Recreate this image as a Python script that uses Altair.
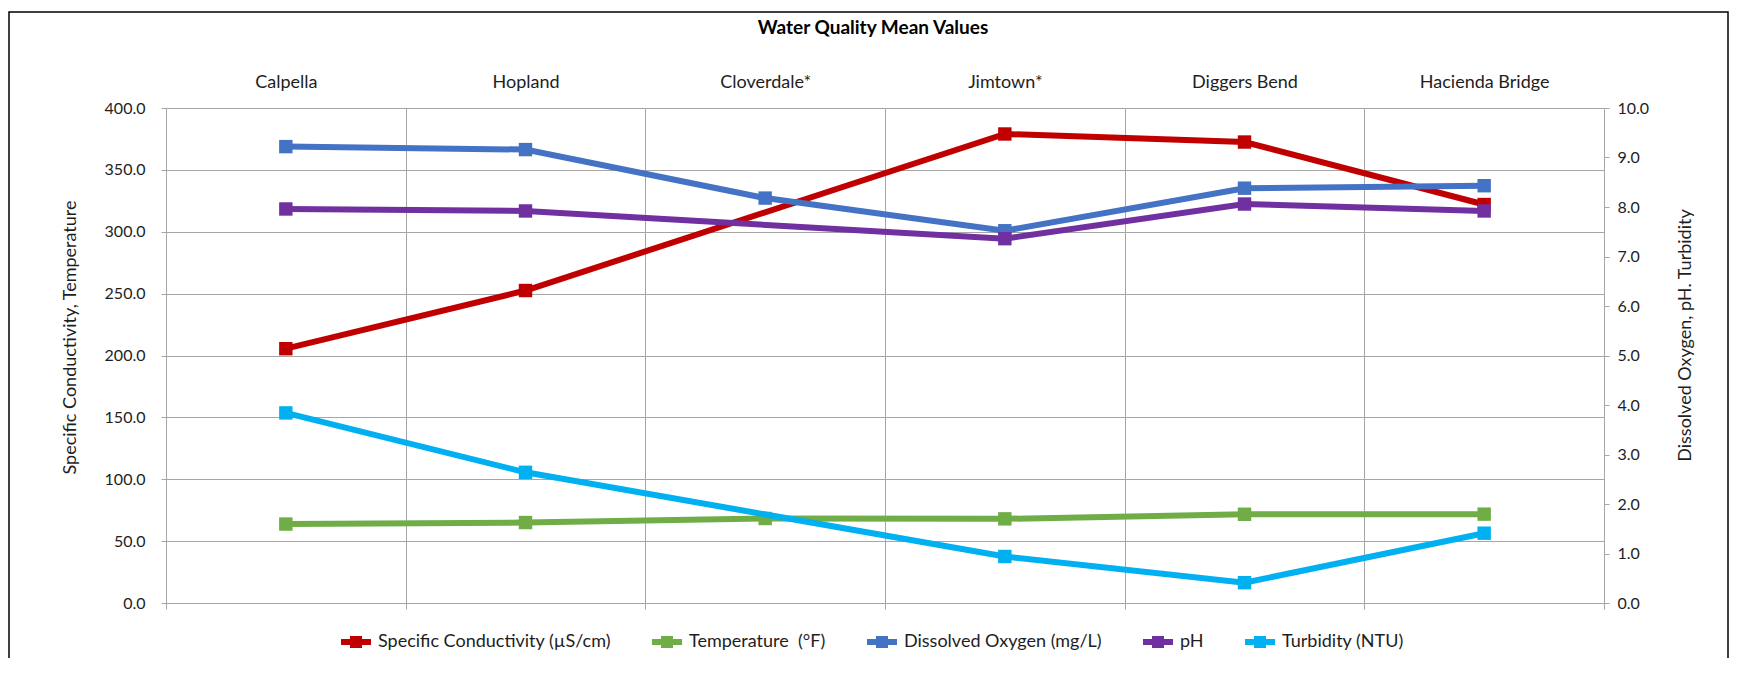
import altair as alt
import pandas as pd

sites = ["Calpella", "Hopland", "Cloverdale*", "Jimtown*", "Diggers Bend", "Hacienda Bridge"]
series_names = ["Specific Conductivity (µS/cm)", "Temperature\u00a0 (°F)", "Dissolved Oxygen (mg/L)", "pH", "Turbidity (NTU)"]
series_colors = ["#C00000", "#70AD47", "#4472C4", "#7030A0", "#00B0F0"]

spec_cond = [205.5, 252.5, None, 379.0, 372.5, 322.0]
temperature = [63.8, 65.0, 68.3, 68.0, 71.7, 71.8]
dissolved_oxygen = [9.22, 9.16, 8.18, 7.52, 8.38, 8.43]
ph = [7.96, 7.92, None, 7.36, 8.06, 7.92]
turbidity = [3.84, 2.64, None, 0.94, 0.41, 1.41]

left_ticks = [0, 50, 100, 150, 200, 250, 300, 350, 400]
right_ticks = [0, 1, 2, 3, 4, 5, 6, 7, 8, 9, 10]


def long(series_list):
    rows = []
    for name, vals in series_list:
        for i, v in enumerate(vals):
            if v is not None:
                rows.append({"site": sites[i], "idx": i, "series": name, "value": v})
    return pd.DataFrame(rows)


left_df = long([(series_names[0], spec_cond), (series_names[1], temperature)])
right_df = long([(series_names[2], dissolved_oxygen), (series_names[3], ph), (series_names[4], turbidity)])

FONT = "Lato"
GRID = "#a6a6a6"
TXT = "#1e1e1e"

xscale = alt.Scale(domain=[0, len(sites)], nice=False, zero=False)
cscale = alt.Scale(domain=series_names, range=series_colors)

legend_sym = "M-1,0L1,0 M-0.2,-0.2L0.2,-0.2L0.2,0.2L-0.2,0.2Z"
legend = alt.Legend(
    title=None, orient="none", direction="horizontal", legendX=172, legendY=516,
    symbolType=legend_sym, symbolSize=900, symbolStrokeWidth=6,
    labelFont=FONT, labelFontSize=18, labelColor=TXT, labelOffset=4, labelLimit=0,
    columnPadding=29,
)

point_def = alt.OverlayMarkDef(shape="square", size=180, filled=True, opacity=1)

left = alt.Chart(left_df).transform_calculate(pos="datum.idx + 0.5").mark_line(
    strokeWidth=6, point=point_def
).encode(
    x=alt.X("pos:Q", scale=xscale, axis=alt.Axis(
        orient="bottom", values=list(range(len(sites) + 1)), labels=False, ticks=True,
        tickSize=6, tickColor=GRID, grid=True, gridColor=GRID, domain=False, title=None)),
    y=alt.Y("value:Q", scale=alt.Scale(domain=[0, 400], nice=False), axis=alt.Axis(
        orient="left", values=left_ticks, format=".1f", grid=True, gridColor=GRID,
        domain=True, domainColor=GRID, tickColor=GRID, tickSize=5, labelPadding=16,
        labelFont=FONT, labelFontSize=16, labelColor=TXT,
        title="Specific Conductivity, Temperature", titleFont=FONT, titleFontSize=18,
        titleFontWeight="normal", titleColor=TXT, titleAngle=270, titleX=-96, titleY=229,
        titleAlign="center", titleBaseline="middle")),
    color=alt.Color("series:N", scale=cscale, legend=legend),
)

label_expr = "[" + ",".join("'" + s + "'" for s in sites) + "][floor(datum.value)]"

right = alt.Chart(right_df).transform_calculate(pos="datum.idx + 0.5").mark_line(
    strokeWidth=6, point=point_def
).encode(
    x=alt.X("pos:Q", scale=xscale, axis=alt.Axis(
        orient="top", values=[i + 0.5 for i in range(len(sites))], labelExpr=label_expr,
        ticks=False, grid=False, domain=False, labelPadding=17, labelFont=FONT,
        labelFontSize=18, labelColor=TXT, title=None)),
    y=alt.Y("value:Q", scale=alt.Scale(domain=[0, 10], nice=False), axis=alt.Axis(
        orient="right", values=right_ticks, format=".1f", grid=False, domain=False,
        tickColor=GRID, tickSize=5, labelPadding=8,
        labelFont=FONT, labelFontSize=16, labelColor=TXT,
        title="Dissolved Oxygen, pH. Turbidity", titleFont=FONT, titleFontSize=18,
        titleFontWeight="normal", titleColor=TXT, titleAngle=270, titleX=81, titleY=227,
        titleAlign="center", titleBaseline="middle")),
    color=alt.Color("series:N", scale=cscale, legend=legend),
)

frame = alt.Chart(pd.DataFrame({"f": [0]})).mark_rect(
    fill="transparent", stroke="black", strokeWidth=1.5
).encode(x=alt.value(-157), x2=alt.value(1562), y=alt.value(-96), y2=alt.value(640))

chart = alt.layer(frame, left, right).resolve_scale(
    y="independent"
).resolve_axis(
    x="independent", y="independent"
).properties(
    width=1438, height=495,
    autosize=alt.AutoSizeParams(type="none"),
    padding={"left": 158, "top": 100, "right": 126, "bottom": 55},
    title=alt.TitleParams("Water Quality Mean Values", font=FONT, fontSize=19,
                          fontWeight="bold", color="#000000", anchor="middle",
                          dx=-12, dy=31),
).configure(font=FONT).configure_view(stroke=None).configure_legend(padding=0)

chart.save("out.html", embed_options={"renderer": "svg", "actions": False})
